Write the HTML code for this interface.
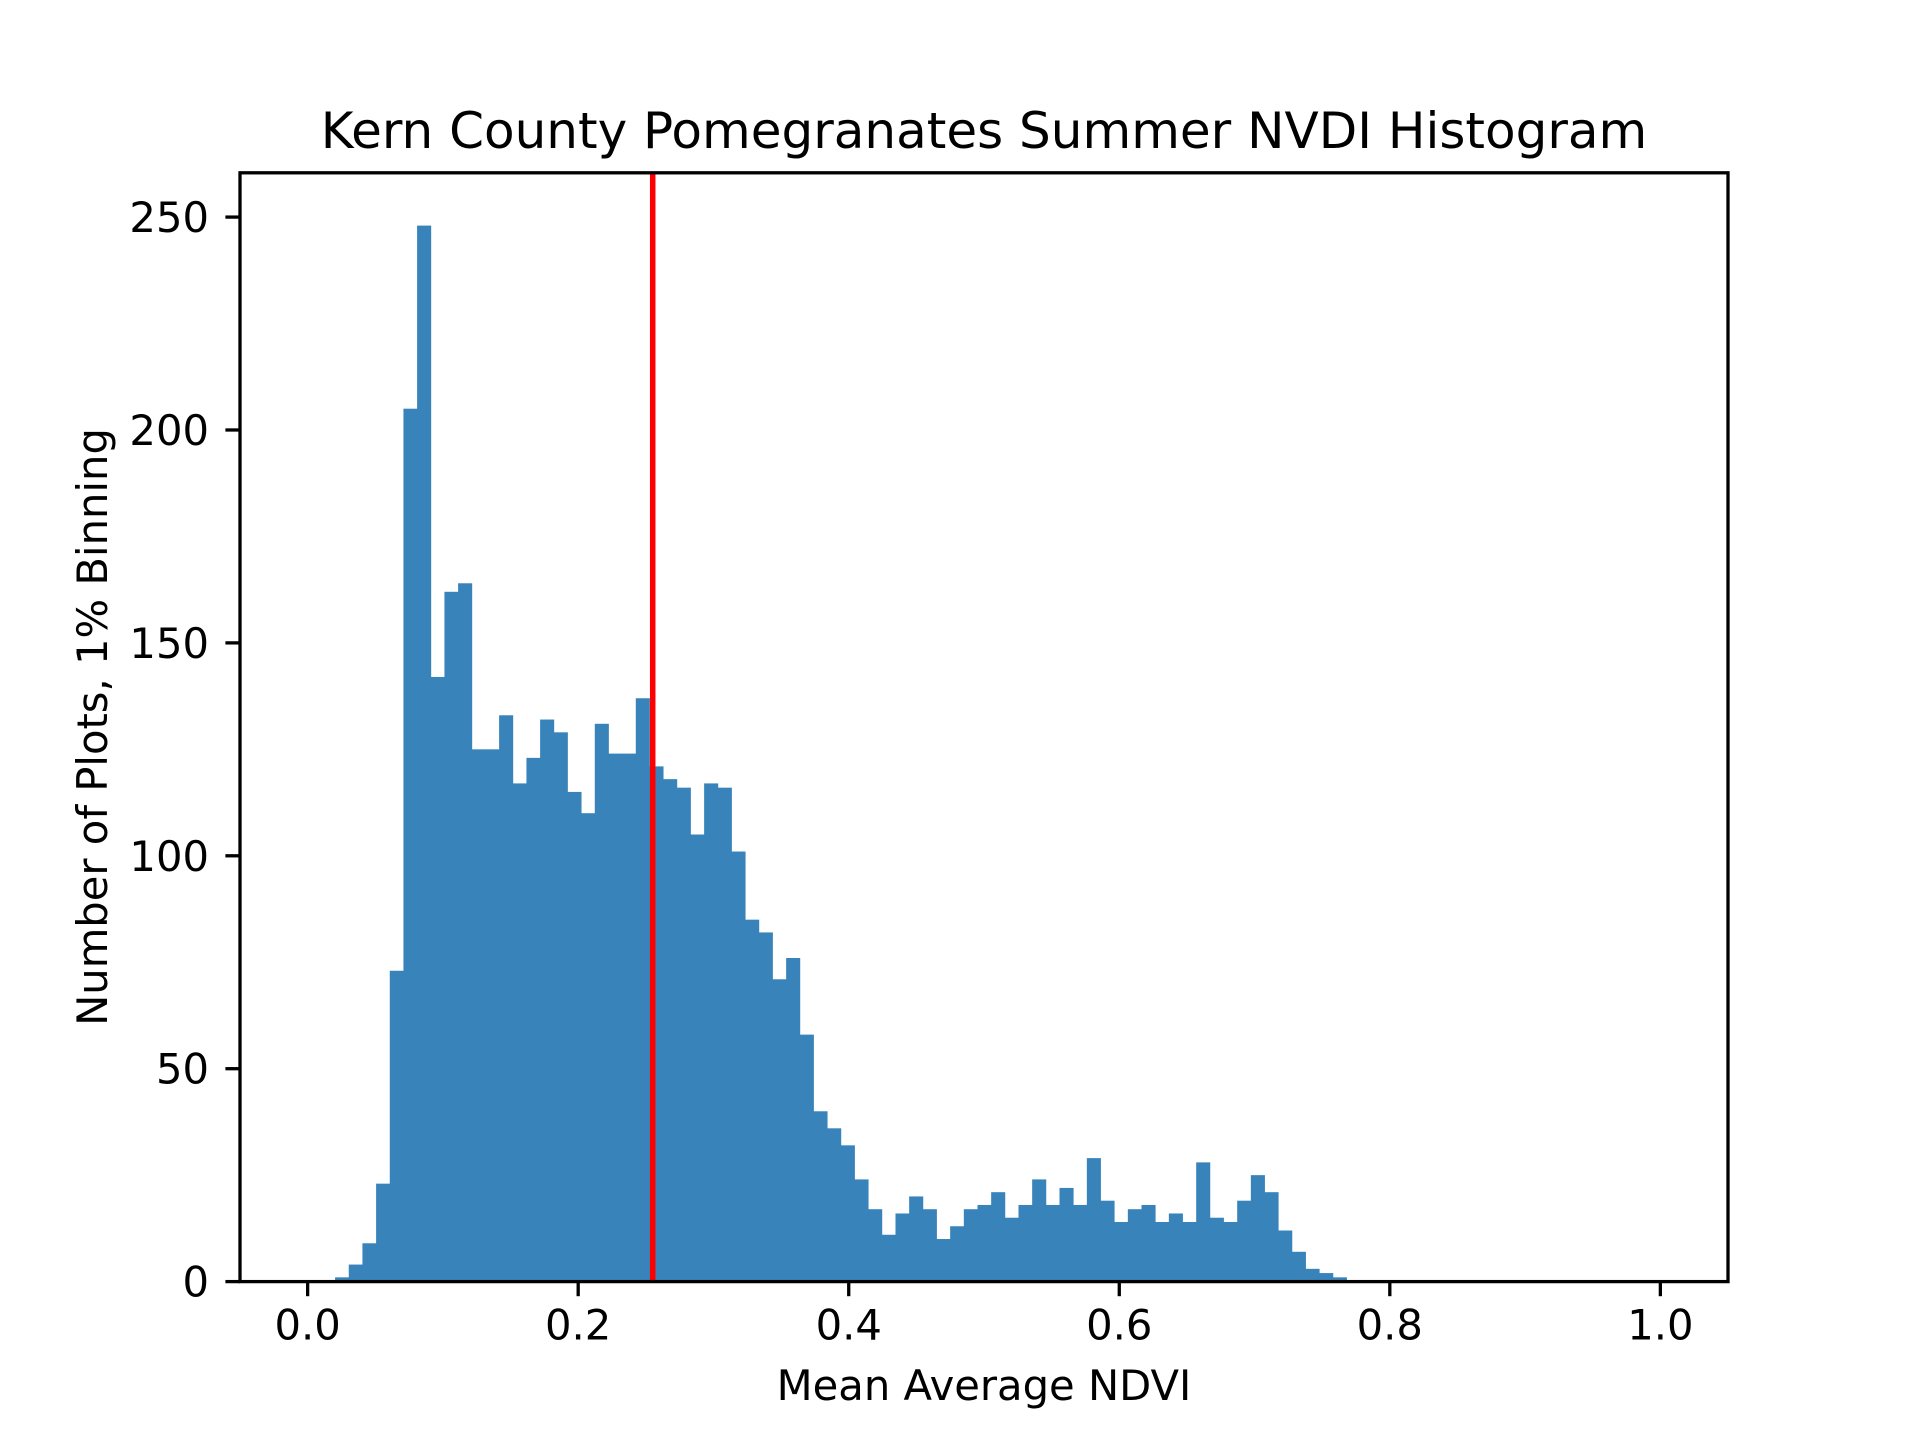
<!DOCTYPE html>
<html><head><meta charset="utf-8"><style>
html,body{margin:0;padding:0;background:#fff;}
svg{display:block;font-family:"DejaVu Sans","Liberation Sans",sans-serif;}
</style></head><body>
<svg id="chart" width="1920" height="1440" viewBox="0 0 1920 1440" xmlns="http://www.w3.org/2000/svg">
<rect width="1920" height="1440" fill="#fff"/>
<text x="984" y="148" font-size="50" text-anchor="middle" fill="#000">Kern County Pomegranates Summer NVDI Histogram</text>
<g id="bars"></g>
<g id="axes"></g>
<text x="984" y="1400" font-size="41.7" text-anchor="middle" fill="#000">Mean Average NDVI</text>
<text x="0" y="0" font-size="41.7" text-anchor="middle" fill="#000" transform="translate(107,727) rotate(-90)">Number of Plots, 1% Binning</text>
</svg>
<script>
const binStart = 0.0203;
const binEnd = 0.768;
const counts = [1,4,9,23,73,205,248,142,162,164,125,125,133,117,123,132,129,115,110,131,124,124,137,121,118,116,105,117,116,101,85,82,71,76,58,40,36,32,24,17,11,16,20,17,10,13,17,18,21,15,18,24,18,22,18,29,19,14,17,18,14,16,14,28,15,14,19,25,21,12,7,3,2,1];
const meanValue = 0.2551;
const xTicks = [0.0,0.2,0.4,0.6,0.8,1.0];
const xTickLabels = ["0.0","0.2","0.4","0.6","0.8","1.0"];
const yTicks = [0,50,100,150,200,250];
const yTickLabels = ["0","50","100","150","200","250"];

const NS = "http://www.w3.org/2000/svg";
const L = 240, R = 1728, T = 172.8, B = 1281.6;
const xMin = -0.05, xMax = 1.05, yMin = 0, yMax = 260.4;
function xs(v){ return L + (v - xMin) / (xMax - xMin) * (R - L); }
function ys(v){ return B - (v - yMin) / (yMax - yMin) * (B - T); }
function mk(tag, attrs, parent){
  const e = document.createElementNS(NS, tag);
  for (const k in attrs) e.setAttribute(k, attrs[k]);
  parent.appendChild(e);
  return e;
}
const bars = document.getElementById('bars');
const w = (binEnd - binStart) / counts.length;
counts.forEach((c, i) => {
  const x0 = xs(binStart + i * w), x1 = xs(binStart + (i + 1) * w);
  const r = mk('rect', {x: x0, y: ys(c), width: x1 - x0 + 0.4, height: ys(0) - ys(c), fill: '#3783ba'}, bars);
  
  
});
const axes = document.getElementById('axes');
const ml = mk('line', {x1: xs(meanValue), x2: xs(meanValue), y1: T, y2: B, stroke: '#ff0000', 'stroke-width': 5.5}, axes);


const frame = mk('rect', {x: L, y: T, width: R - L, height: B - T, fill: 'none', stroke: '#000', 'stroke-width': 3.3}, axes);


xTicks.forEach((v, i) => {
  const x = xs(v);
  const t = mk('line', {x1: x, x2: x, y1: B, y2: B + 14.6, stroke: '#000', 'stroke-width': 3.3}, axes);
  
  
  const lb = mk('text', {x: x, y: B + 58, 'font-size': 41.7, 'text-anchor': 'middle', fill: '#000'}, axes);
  lb.textContent = xTickLabels[i];
  
  
});
yTicks.forEach((v, i) => {
  const y = ys(v);
  const t = mk('line', {x1: L - 14.6, x2: L, y1: y, y2: y, stroke: '#000', 'stroke-width': 3.3}, axes);
  
  
  const lb = mk('text', {x: L - 31, y: y + 15, 'font-size': 41.7, 'text-anchor': 'end', fill: '#000'}, axes);
  lb.textContent = yTickLabels[i];
  
  
});
</script>
</body></html>
